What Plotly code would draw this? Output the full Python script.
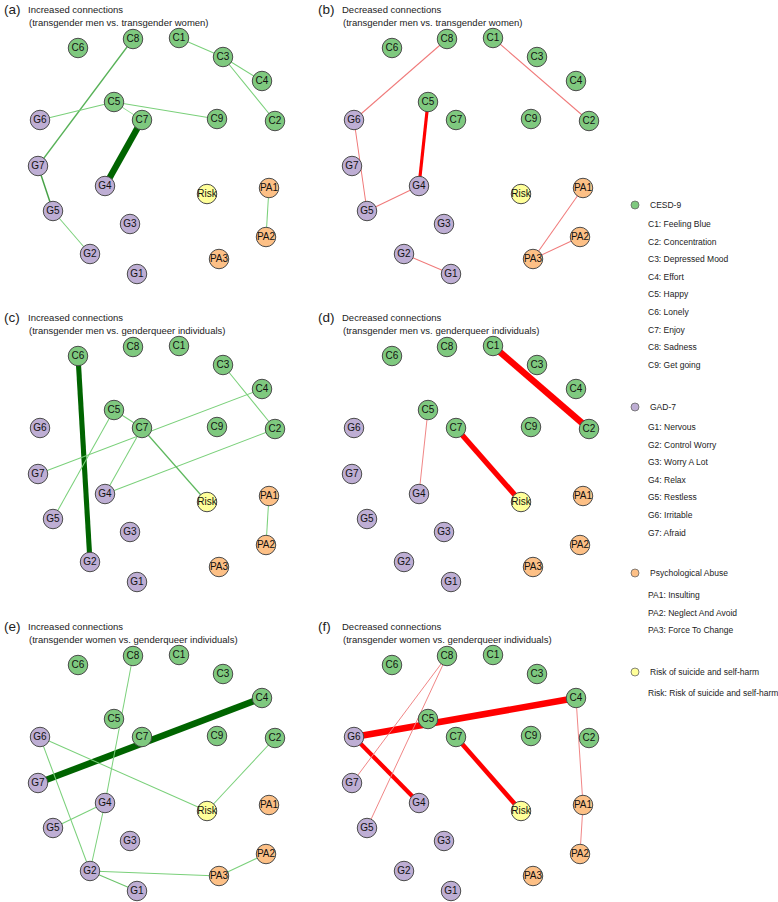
import plotly.graph_objects as go

# ---------------- data ----------------
node_names = ["C1", "C2", "C3", "C4", "C5", "C6", "C7", "C8", "C9",
              "G1", "G2", "G3", "G4", "G5", "G6", "G7",
              "PA1", "PA2", "PA3", "Risk"]
node_groups = ["CESD-9"] * 9 + ["GAD-7"] * 7 + ["Psychological Abuse"] * 3 + ["Risk of suicide and self-harm"]
# network layout coordinates (shared by all six panels)
layout_x = [179, 275, 223, 262, 114, 78, 142, 133, 217,
            137, 90, 130, 105, 53, 40, 38,
            269, 266, 219, 207]
layout_y = [38, 121, 57, 81, 102, 48, 120, 39, 119,
            274, 254, 224, 186, 211, 120, 166,
            188, 237, 259, 194]

group_names = ["CESD-9", "GAD-7", "Psychological Abuse", "Risk of suicide and self-harm"]
group_colors = ["#7FC97F", "#BEAED4", "#FDC086", "#FFFF99"]
group_items = [
    ["C1: Feeling Blue", "C2: Concentration", "C3: Depressed Mood", "C4: Effort", "C5: Happy",
     "C6: Lonely", "C7: Enjoy", "C8: Sadness", "C9: Get going"],
    ["G1: Nervous", "G2: Control Worry", "G3: Worry A Lot", "G4: Relax", "G5: Restless",
     "G6: Irritable", "G7: Afraid"],
    ["PA1: Insulting", "PA2: Neglect And Avoid", "PA3: Force To Change"],
    ["Risk: Risk of suicide and self-harm"],
]

panel_letters = ["(a)", "(b)", "(c)", "(d)", "(e)", "(f)"]
panel_kind = ["Increased", "Decreased", "Increased", "Decreased", "Increased", "Decreased"]
panel_compare = ["(transgender men vs. transgender women)",
                 "(transgender men vs. transgender women)",
                 "(transgender men vs. genderqueer individuals)",
                 "(transgender men vs. genderqueer individuals)",
                 "(transgender women vs. genderqueer individuals)",
                 "(transgender women vs. genderqueer individuals)"]

# edges: (from, to, relative strength)
edges_a = [("C1", "C3", 0.02), ("C3", "C4", 0.02), ("C3", "C2", 0.02), ("C8", "G7", 0.07),
           ("C5", "G6", 0.02), ("C5", "C9", 0.02), ("C5", "C7", 0.0), ("C7", "G4", 1.0),
           ("G7", "G5", 0.1), ("G5", "G2", 0.02), ("PA1", "PA2", 0.02)]
edges_b = [("C8", "G6", 0.02), ("C1", "C2", 0.02), ("C5", "G4", 0.4), ("G6", "G5", 0.02),
           ("G5", "G4", 0.02), ("G2", "G1", 0.02), ("PA1", "PA3", 0.02), ("PA2", "PA3", 0.02)]
edges_c = [("C6", "G2", 0.75), ("C3", "C2", 0.02), ("C4", "G7", 0.02), ("C2", "G4", 0.02),
           ("C5", "C7", 0.02), ("C5", "G5", 0.02), ("C7", "G4", 0.02), ("C7", "Risk", 0.06),
           ("PA1", "PA2", 0.02)]
edges_d = [("C1", "C2", 1.0), ("C7", "Risk", 0.8), ("C5", "G4", 0.01)]
edges_e = [("G7", "C4", 1.0), ("C8", "G4", 0.02), ("G6", "Risk", 0.02), ("G6", "G2", 0.02),
           ("C2", "Risk", 0.02), ("G4", "G5", 0.02), ("G4", "G2", 0.02), ("G2", "G1", 0.04),
           ("G2", "PA3", 0.02), ("PA3", "PA2", 0.02)]
edges_f = [("G6", "C4", 1.0), ("G6", "G4", 0.6), ("C7", "Risk", 0.65), ("C8", "G7", 0.01),
           ("C8", "G5", 0.01), ("C4", "PA1", 0.01), ("PA1", "PA2", 0.01)]
panel_edges = [edges_a, edges_b, edges_c, edges_d, edges_e, edges_f]

# ---------------- styling helpers ----------------
FONT = "Liberation Sans, Arial, sans-serif"
W, H = 778, 902
PANEL_W, PANEL_H = 300, 285
col_left = [0, 314]
row_top = [0, 308, 617]


def lerp_color(c0, c1, t):
    t = max(0.0, min(1.0, t))
    r = round(c0[0] + (c1[0] - c0[0]) * t)
    g = round(c0[1] + (c1[1] - c0[1]) * t)
    b = round(c0[2] + (c1[2] - c0[2]) * t)
    return f"rgb({r},{g},{b})"


def edge_style(kind, w):
    width = 0.9 + 5.6 * w
    t = min(1.0, w * 5)
    if kind == "Increased":
        col = lerp_color((135, 220, 135), (0, 100, 0), t)
    else:
        col = lerp_color((238, 135, 135), (255, 0, 0), t)
    return width, col


idx = {n: i for i, n in enumerate(node_names)}
node_fill = [group_colors[group_names.index(g)] for g in node_groups]

fig = go.Figure()
annotations = []
layout_axes = {}

for p in range(6):
    r, c = p // 2, p % 2
    ax = "" if p == 0 else str(p + 1)
    xa, ya = "x" + ax, "y" + ax
    left, top = col_left[c], row_top[r]
    layout_axes["xaxis" + ax] = dict(domain=[left / W, (left + PANEL_W) / W], range=[0, PANEL_W],
                                     visible=False, fixedrange=True)
    layout_axes["yaxis" + ax] = dict(domain=[1 - (top + PANEL_H) / H, 1 - top / H], range=[PANEL_H, 0],
                                     visible=False, fixedrange=True)
    # edges
    for (a, b, w) in panel_edges[p]:
        width, col = edge_style(panel_kind[p], w)
        fig.add_trace(go.Scatter(
            x=[layout_x[idx[a]], layout_x[idx[b]]], y=[layout_y[idx[a]], layout_y[idx[b]]],
            mode="lines", line=dict(color=col, width=width), xaxis=xa, yaxis=ya,
            hoverinfo="skip", showlegend=False))
    # nodes
    fig.add_trace(go.Scatter(
        x=layout_x, y=layout_y, mode="markers+text", text=node_names,
        textposition="middle center",
        textfont=dict(family=FONT, size=10, color="#111111"),
        marker=dict(size=19.5, color=node_fill, line=dict(color="#4a4a4a", width=1)),
        xaxis=xa, yaxis=ya, hoverinfo="text", showlegend=False))
    # titles
    annotations.append(dict(x=2, y=9, xref=xa, yref=ya, text=panel_letters[p], showarrow=False,
                            xanchor="left", yanchor="middle",
                            font=dict(family=FONT, size=13.5, color="#222222")))
    annotations.append(dict(x=26, y=9, xref=xa, yref=ya, text=panel_kind[p] + " connections",
                            showarrow=False, xanchor="left", yanchor="middle",
                            font=dict(family=FONT, size=9.5, color="#222222")))
    annotations.append(dict(x=27, y=22, xref=xa, yref=ya, text=panel_compare[p],
                            showarrow=False, xanchor="left", yanchor="middle",
                            font=dict(family=FONT, size=9.5, color="#222222")))

# ---------------- legend (own axis in pixel units) ----------------
layout_axes["xaxis7"] = dict(domain=[628 / W, 1], range=[628, W], visible=False, fixedrange=True)
layout_axes["yaxis7"] = dict(domain=[0, 1], range=[H, 0], visible=False, fixedrange=True)
head_y = [205, 407, 573, 672]
first_item_y = [224, 427, 595, 693]
item_step = 17.6
for g in range(4):
    fig.add_trace(go.Scatter(x=[635], y=[head_y[g]], mode="markers",
                             marker=dict(size=8, color=group_colors[g], line=dict(color="#666666", width=0.8)),
                             xaxis="x7", yaxis="y7", hoverinfo="skip", showlegend=False))
    annotations.append(dict(x=648, y=head_y[g], xref="x7", yref="y7", text=group_names[g],
                            showarrow=False, xanchor="left", yanchor="middle",
                            font=dict(family=FONT, size=8.5, color="#222222")))
    for k, item in enumerate(group_items[g]):
        annotations.append(dict(x=646, y=first_item_y[g] + item_step * k, xref="x7", yref="y7",
                                text=item, showarrow=False, xanchor="left", yanchor="middle",
                                font=dict(family=FONT, size=8.5, color="#222222")))

fig.update_layout(width=W, height=H, margin=dict(l=0, r=0, t=0, b=0),
                  paper_bgcolor="white", plot_bgcolor="white",
                  annotations=annotations, showlegend=False, **layout_axes)

fig.write_html("out.html", config={"displayModeBar": False},
               post_script="document.body.style.margin='0';document.body.style.padding='0';")
